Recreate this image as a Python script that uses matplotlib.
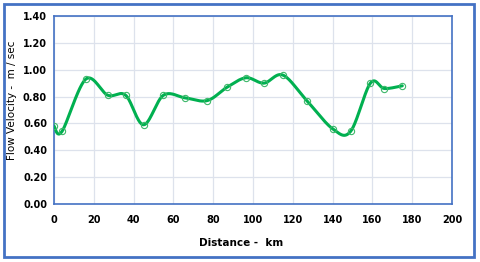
import numpy as np
import matplotlib
matplotlib.use('Agg')
import matplotlib.pyplot as plt
from matplotlib.patches import Rectangle

# data
distance = [0, 4, 16, 27, 36, 45, 55, 66, 77, 87, 96.5, 105.5, 115, 127, 140, 149, 159, 166, 175]
velocity = [0.58, 0.54, 0.93, 0.81, 0.81, 0.59, 0.81, 0.79, 0.77, 0.87, 0.94, 0.90, 0.96, 0.77, 0.56, 0.54, 0.90, 0.86, 0.88]

xticks = list(range(0, 201, 20))
yticks = [0.0, 0.2, 0.4, 0.6, 0.8, 1.0, 1.2, 1.4]

blue = '#4472C4'
green = '#00B050'


def smooth(x, y, n=30):
    # Catmull-Rom style smoothing, like the spreadsheet "smoothed line"
    x = np.asarray(x, float)
    y = np.asarray(y, float)
    px = np.concatenate([[x[0]], x, [x[-1]]])
    py = np.concatenate([[y[0]], y, [y[-1]]])
    xs, ys = [], []
    t = np.linspace(0, 1, n)
    for i in range(1, len(px) - 2):
        p0, p1, p2, p3 = (np.array([px[j], py[j]]) for j in range(i - 1, i + 3))
        c1 = p1 + (p2 - p0) / 6
        c2 = p2 - (p3 - p1) / 6
        pts = ((1 - t) ** 3)[:, None] * p1 + (3 * (1 - t) ** 2 * t)[:, None] * c1 \
            + (3 * (1 - t) * t ** 2)[:, None] * c2 + (t ** 3)[:, None] * p2
        xs.extend(pts[:, 0])
        ys.extend(pts[:, 1])
    return np.array(xs), np.array(ys)


fig = plt.figure(figsize=(4.8, 2.62), dpi=100)
ax = fig.add_axes([0.1125, 0.2214, 0.8292, 0.7176])

sx, sy = smooth(distance, velocity)
ax.plot(sx, sy, color=green, linewidth=2.2, solid_capstyle='round', zorder=3)
ax.plot(distance, velocity, linestyle='none', marker='o', markersize=4.5,
        markerfacecolor='none', markeredgecolor='#3DB86A', markeredgewidth=0.8, zorder=4)

ax.set_xlim(0, 200)
ax.set_ylim(0, 1.4)
ax.set_xticks(xticks)
ax.set_yticks(yticks)
ax.set_xticklabels([str(v) for v in xticks], fontsize=7, fontweight='bold')
ax.set_yticklabels(['%.2f' % v for v in yticks], fontsize=7, fontweight='bold')
ax.tick_params(axis='y', length=0, pad=5)
ax.tick_params(axis='x', length=0, pad=8)
ax.grid(True, color='#DDE2EC', linewidth=0.9)
ax.set_axisbelow(True)
for s in ax.spines.values():
    s.set_color(blue)
    s.set_linewidth(1.2)

ax.set_xlabel('Distance -  km', fontsize=7.5, fontweight='bold')
ax.set_ylabel('Flow Velocity -  m / sec', fontsize=7.5)
ax.xaxis.set_label_coords(0.47, -0.18)
ax.yaxis.set_label_coords(-0.093, 0.55)

# outer frame
fig.patches.append(Rectangle((0.008, 0.02), 0.98, 0.965, transform=fig.transFigure,
                             fill=False, edgecolor=blue, linewidth=2))

fig.savefig('out.png', dpi=100)
